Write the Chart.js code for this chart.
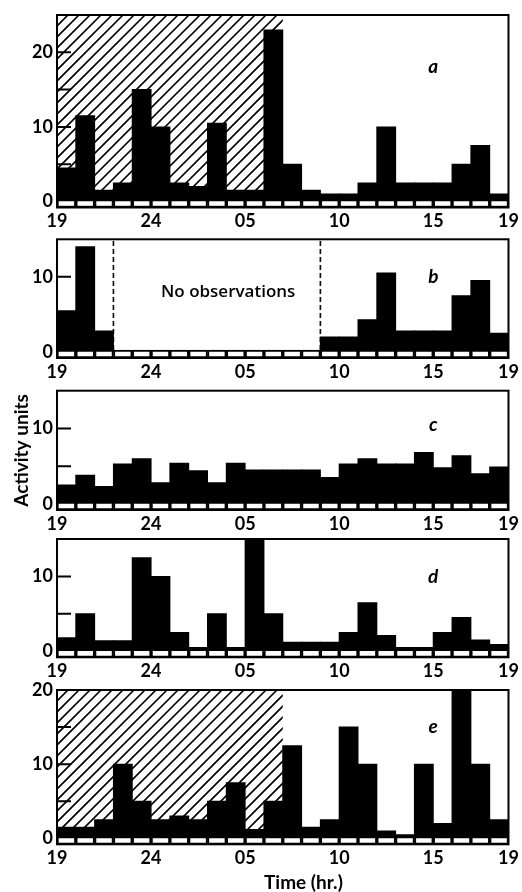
<!DOCTYPE html>
<html>
<head>
<meta charset="utf-8">
<script src="https://cdn.jsdelivr.net/npm/chart.js@4.4.1/dist/chart.umd.min.js"></script>
<style>
html,body{margin:0;padding:0;background:#fff;width:522px;height:892px;overflow:hidden;position:relative}
canvas{position:absolute;left:0}
</style>
</head>
<body>
<script>
// ---------- DATA ----------
// 24 hourly bins starting at 19:00
const hourLabels = ['19','20','21','22','23','24','01','02','03','04','05','06','07','08','09','10','11','12','13','14','15','16','17','18'];
// x tick positions (in hours from 19:00) and their labels
const tickPositions = [0, 5, 10, 15, 20, 24];
const tickLabels = ['19', '24', '05', '10', '15', '19'];
const yTickValues = [0, 5, 10, 15, 20, 25];

const activityA = [4.5, 11.5, 1.5, 2.5, 15, 10, 2.5, 2, 10.5, 1.5, 1.5, 23, 5, 1.5, 1, 1, 2.5, 10, 2.5, 2.5, 2.5, 5, 7.5, 1];
const activityB = [5.5, 14, 2.8, null, null, null, null, null, null, null, null, null, null, null, 2, 2, 4.3, 10.5, 2.8, 2.8, 2.8, 7.5, 9.5, 2.5];
const activityC = [2.5, 3.8, 2.3, 5.3, 6, 2.8, 5.4, 4.4, 2.8, 5.4, 4.5, 4.5, 4.5, 4.5, 3.5, 5.3, 6, 5.3, 5.3, 6.8, 4.8, 6.4, 4.0, 4.9];
const activityD = [1.8, 5, 1.4, 1.4, 12.5, 10, 2.5, 0.5, 5, 0.5, 15, 5, 1.2, 1.2, 1.2, 2.5, 6.5, 2.1, 0.5, 0.5, 2.5, 4.5, 1.5, 0.9];
const activityE = [1.5, 1.5, 2.5, 10, 5, 2.5, 3, 2.5, 5, 7.5, 1.2, 5, 12.5, 1.5, 2.5, 15, 10, 1, 0.5, 10, 2, 20, 10, 2.5];

// dark (hatched) period: hours after 19:00
const darkHoursA = 12;
const darkHoursE = 12;
// panel b: no observations between these hour marks
const noObsB = [3, 14];

// ---------- LAYOUT / STYLE ----------
const STRIP_LO = -0.8, STRIP_HI = 0.25;
const PADT = 12;
const FONT = 'Lato';
const panels = [
  {key:'a', values:activityA, ymax:25, boxTop:15,    boxBottom:207.5, letterAt:18,   dark:darkHoursA, xAxisH:26},
  {key:'b', values:activityB, ymax:15, boxTop:239.3, boxBottom:358,   letterAt:10,   gap:noObsB, gapText:'No observations', gapTextAt:[9.1, 7.9], xAxisH:26},
  {key:'c', values:activityC, ymax:15, boxTop:390.7, boxBottom:510,   letterAt:10.5, yTitle:'Activity units', xAxisH:26},
  {key:'d', values:activityD, ymax:15, boxTop:539,   boxBottom:657.3, letterAt:10,   xAxisH:26},
  {key:'e', values:activityE, ymax:20, boxTop:690,   boxBottom:844.3, letterAt:15,   dark:darkHoursE, xTitle:'Time (hr.)', xTitleAt:13.1, xAxisH:50}
];

const panelDecor = {
  id: 'panelDecor',
  beforeDatasetsDraw(chart, args, o) {
    const p = o.panel;
    const {ctx, chartArea: ca, scales: {x, y}} = chart;
    const y0 = y.getPixelForValue(0);
    if (p.dark) {
      const x0 = x.getPixelForValue(0), x1 = x.getPixelForValue(p.dark);
      ctx.save();
      ctx.beginPath(); ctx.rect(x0, ca.top, x1 - x0, y0 - ca.top); ctx.clip();
      ctx.strokeStyle = '#000'; ctx.lineWidth = 1.6;
      const h = y0 - ca.top;
      ctx.beginPath();
      for (let sx = x0 - h; sx < x1 + 2; sx += 11) { ctx.moveTo(sx, y0); ctx.lineTo(sx + h, ca.top); }
      ctx.stroke();
      ctx.restore();
    }
    // inward y tick marks
    ctx.save();
    ctx.strokeStyle = '#000'; ctx.lineWidth = 2;
    ctx.beginPath();
    y.ticks.forEach(t => {
      if (t.value <= 0 || t.value >= p.ymax) return;
      const py = y.getPixelForValue(t.value);
      ctx.moveTo(ca.left, py); ctx.lineTo(ca.left + 14, py);
    });
    ctx.stroke();
    ctx.restore();
  },
  afterDatasetsDraw(chart, args, o) {
    const p = o.panel;
    const {ctx, chartArea: ca, scales: {x, y}} = chart;
    ctx.save();
    if (p.gap) {
      ctx.strokeStyle = '#000'; ctx.lineWidth = 1.6; ctx.setLineDash([5, 3]);
      ctx.beginPath();
      p.gap.forEach(g => { const px = x.getPixelForValue(g); ctx.moveTo(px, y.getPixelForValue(STRIP_HI)); ctx.lineTo(px, ca.top); });
      ctx.stroke();
      ctx.setLineDash([]);
      ctx.fillStyle = '#000'; ctx.textAlign = 'center'; ctx.textBaseline = 'middle';
      ctx.font = '600 17px "Open Sans"';
      ctx.fillText(p.gapText, x.getPixelForValue(p.gapTextAt[0]), y.getPixelForValue(p.gapTextAt[1]));
    }
    // box
    ctx.strokeStyle = '#000'; ctx.lineWidth = 2;
    ctx.strokeRect(ca.left, ca.top, ca.right - ca.left, ca.bottom - ca.top);
    // panel letter
    ctx.fillStyle = '#000'; ctx.textAlign = 'center'; ctx.textBaseline = 'middle';
    ctx.font = 'italic bold 19px ' + FONT;
    ctx.fillText(p.key, x.getPixelForValue(20), y.getPixelForValue(p.letterAt));
    if (p.xTitle) {
      ctx.font = 'bold 19px ' + FONT;
      ctx.fillText(p.xTitle, x.getPixelForValue(p.xTitleAt), ca.bottom + 38.7);
    }
    ctx.restore();
  }
};

Chart.defaults.font.family = FONT;
Chart.defaults.color = '#000';

panels.forEach(p => {
  const cTop = Math.round(p.boxTop - PADT);
  const padTop = p.boxTop - cTop;
  const inner = padTop + (p.boxBottom - p.boxTop) + p.xAxisH;
  const h = Math.ceil(inner);
  const cv = document.createElement('canvas');
  cv.width = 522; cv.height = h;
  cv.style.top = cTop + 'px'; cv.style.width = '522px'; cv.style.height = h + 'px';
  document.body.appendChild(cv);
  new Chart(cv, {
    type: 'bar',
    data: {
      datasets: [
        { label: 'axis strip', data: hourLabels.map((hl, i) => ({x: i + 0.5, y: [STRIP_LO, STRIP_HI]})),
          backgroundColor: '#fff', borderColor: '#000', borderWidth: 2, borderSkipped: false,
          grouped: false, order: 0, barPercentage: 1, categoryPercentage: 1 },
        { label: 'activity', data: p.values.map((v, i) => ({x: i + 0.5, y: v})),
          backgroundColor: '#000', borderWidth: 0, inflateAmount: 0.5,
          grouped: false, order: 1, barPercentage: 1, categoryPercentage: 1 }
      ]
    },
    options: {
      responsive: false, animation: false, events: [],
      layout: { padding: { top: padTop, right: 13.5, bottom: h - inner, left: 0 } },
      plugins: { legend: {display: false}, tooltip: {enabled: false}, panelDecor: {panel: p} },
      scales: {
        x: {
          type: 'linear', min: 0, max: 24, offset: false,
          grid: {display: false, drawTicks: false}, border: {display: false},
          afterBuildTicks: s => { s.ticks = tickPositions.map(v => ({value: v})); },
          ticks: { autoSkip: false, maxRotation: 0, padding: 3, font: {size: 18, weight: 'bold'},
                   callback: (v, i) => tickLabels[i] },
          afterFit: s => { s.height = p.xAxisH; s.paddingLeft = 0; s.paddingRight = 0; }
        },
        y: {
          min: STRIP_LO, max: p.ymax,
          grid: {display: false, drawTicks: false}, border: {display: false},
          afterBuildTicks: s => { s.ticks = yTickValues.filter(v => v <= p.ymax).map(v => ({value: v})); },
          ticks: { autoSkip: false, padding: 4, font: {size: 18, weight: 'bold'},
                   callback: v => (v % 10 === 0 && v < 25) ? String(v) : '' },
          title: { display: !!p.yTitle, text: p.yTitle || '', font: {size: 19, weight: 'bold'}, padding: {top: 10, bottom: 0} },
          afterFit: s => { s.width = 57; s.paddingTop = 0; s.paddingBottom = 0; }
        }
      }
    },
    plugins: [panelDecor]
  });
});
</script>
</body>
</html>
